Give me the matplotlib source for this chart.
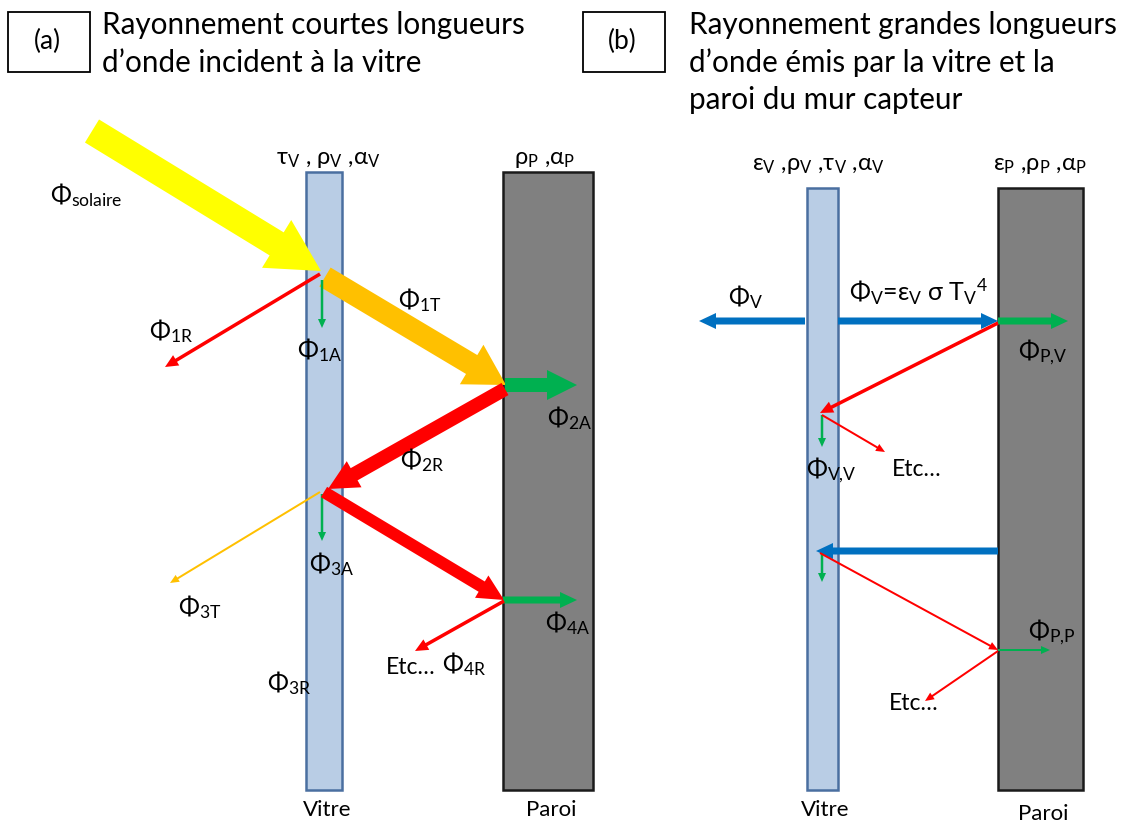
# schema of short and long wave radiation through the glazing of a Trombe wall

import matplotlib.pyplot as plt
from matplotlib.patches import Rectangle

plt.rcParams['font.family'] = ['Lato', 'DejaVu Sans']
plt.rcParams['mathtext.fontset'] = 'custom'
plt.rcParams['mathtext.rm'] = 'Lato'

YELLOW = '#FFFF00'
ORANGE = '#FFC000'
RED = '#FF0000'
GREEN = '#00B050'
BLUE = '#0070C0'

# panel titles
box_labels = ['(a)', '(b)']
box_x = [8, 583]
titles = [['Rayonnement courtes longueurs', 'd’onde incident à la vitre'],
          ['Rayonnement grandes longueurs', 'd’onde émis par la vitre et la',
           'paroi du mur capteur']]
title_x = [102, 689]

# walls: x left, x right, y top, y bottom
wall_names = ['Vitre', 'Paroi', 'Vitre', 'Paroi']
wall_x0 = [306, 503, 807, 998]
wall_x1 = [342, 593, 838, 1083]
wall_y0 = [172, 172, 188, 188]
wall_y1 = [790, 790, 790, 790]
wall_props = [r'$\mathregular{\tau_V}$ , $\mathregular{\rho_V}$ ,$\mathregular{\alpha_V}$',
              r'$\mathregular{\rho_P}$ ,$\mathregular{\alpha_P}$',
              r'$\mathregular{ε_V}$ ,$\mathregular{\rho_V}$ ,$\mathregular{\tau_V}$ ,$\mathregular{\alpha_V}$',
              r'$\mathregular{ε_P}$ ,$\mathregular{\rho_P}$ ,$\mathregular{\alpha_P}$']
props_x = [328, 545, 818, 1040]
props_y = [159, 159, 165, 165]
name_y = [810, 810, 810, 814]

# arrows: tail, tip, colour, kind
arrows = [
    # (a) short wave
    (92, 131, 321, 271, YELLOW, 'huge'),
    (325, 277, 506, 385, ORANGE, 'big'),
    (320, 274, 165, 367, RED, 'thin'),
    (322, 280, 322, 328, GREEN, 'tiny'),
    (505, 385, 577, 385, GREEN, 'mid'),
    (505, 389, 328, 489, RED, 'mid'),
    (322, 494, 322, 541, GREEN, 'tiny'),
    (320, 492, 170, 583, ORANGE, 'hair'),
    (324, 492, 504, 600, RED, 'mid2'),
    (503, 600, 577, 600, GREEN, 'small'),
    (504, 601, 415, 651, RED, 'thin'),
    # (b) long wave
    (805, 321, 699, 321, BLUE, 'small'),
    (838, 321, 998, 321, BLUE, 'small'),
    (998, 321, 1068, 321, GREEN, 'small'),
    (998, 323, 820, 413, RED, 'thin'),
    (822, 415, 822, 447, GREEN, 'tiny'),
    (822, 415, 885, 452, RED, 'hair'),
    (998, 551, 816, 551, BLUE, 'small'),
    (822, 553, 822, 582, GREEN, 'tiny'),
    (820, 553, 998, 650, RED, 'hair'),
    (998, 650, 1050, 650, GREEN, 'hair'),
    (998, 651, 925, 701, RED, 'hair'),
]
arrow_kinds = {  # shaft width, head width, head length
    'huge': (27, 56, 52),
    'big': (22, 46, 40),
    'mid': (14, 30, 30),
    'mid2': (12, 26, 26),
    'small': (7, 16, 17),
    'thin': (3.5, 12, 13),
    'tiny': (2.5, 8, 9),
    'hair': (2, 8, 9),
}

# flux labels: x, y, symbol, subscript
flux = [
    (50, 195, r'\Phi', 'solaire'),
    (398, 300, r'\Phi', '1T'),
    (149, 331, r'\Phi', '1R'),
    (297, 350, r'\Phi', '1A'),
    (547, 418, r'\Phi', '2A'),
    (400, 460, r'\Phi', '2R'),
    (309, 564, r'\Phi', '3A'),
    (178, 607, r'\Phi', '3T'),
    (545, 623, r'\Phi', '4A'),
    (442, 664, r'\Phi', '4R'),
    (267, 683, r'\Phi', '3R'),
    (728, 297, r'\Phi', 'V'),
    (1018, 352, r'\Phi', 'P{,}V'),
    (806, 470, r'\Phi', 'V{,}V'),
    (1028, 632, r'\Phi', 'P{,}P'),
]
etc_pos = [(386, 667), (892, 470), (889, 704)]

fig = plt.figure(figsize=(11.22, 8.25), dpi=100)
ax = fig.add_axes([0, 0, 1, 1])
ax.set_xlim(0, 1122)
ax.set_ylim(825, 0)
ax.axis('off')

for lab, bx, lines, tx in zip(box_labels, box_x, titles, title_x):
    ax.add_patch(Rectangle((bx, 12), 82, 60, fill=False, ec='black', lw=1.3))
    ax.text(bx + 39, 41, lab, ha='center', va='center', fontsize=19)
    for i, line in enumerate(lines):
        ax.text(tx, 25 + 37.5 * i, line, ha='left', va='center', fontsize=21.3)

for i in range(len(wall_names)):
    vitre = wall_names[i] == 'Vitre'
    ax.add_patch(Rectangle((wall_x0[i], wall_y0[i]), wall_x1[i] - wall_x0[i],
                           wall_y1[i] - wall_y0[i],
                           fc='#B9CDE5' if vitre else '#808080',
                           ec='#4A6FA0' if vitre else '#1a1a1a', lw=1.8, zorder=1))
    xc = (wall_x0[i] + wall_x1[i]) / 2
    ax.text(xc + 3, name_y[i], wall_names[i], ha='center', va='center', fontsize=16)
    ax.text(props_x[i], props_y[i], wall_props[i], ha='center', va='center', fontsize=17)

for x0, y0, x1, y1, col, kind in arrows:
    w, hw, hl = arrow_kinds[kind]
    ax.arrow(x0, y0, x1 - x0, y1 - y0, width=w, head_width=hw, head_length=hl,
             length_includes_head=True, fc=col, ec='none', zorder=3)

for x, y, sym, sub in flux:
    ax.text(x, y, r'$\mathregular{%s_{%s}}$' % (sym, sub), ha='left', va='center',
            fontsize=18, zorder=4)

for x, y in etc_pos:
    ax.text(x, y, 'Etc…', ha='left', va='center', fontsize=16.5, zorder=4)

ax.text(849, 292, r'$\mathregular{\Phi_V}$=$\mathregular{ε_V}$ $\mathregular{\sigma}$ '
        r'$\mathregular{T_V{}^4}$', ha='left', va='center', fontsize=18, zorder=4)

fig.savefig('out.png', dpi=100)
